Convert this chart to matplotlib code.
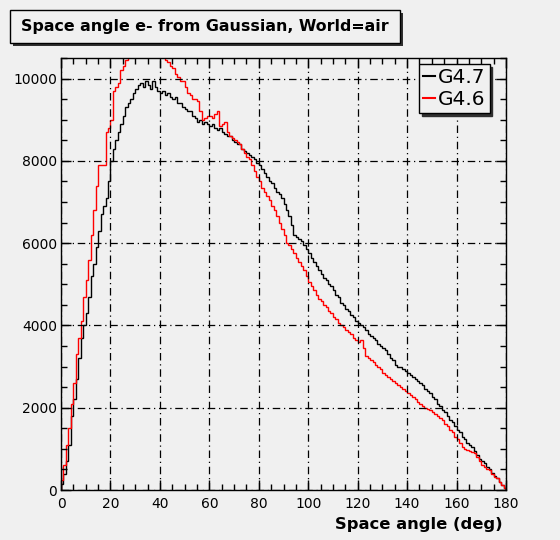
import numpy as np
import matplotlib
matplotlib.use("Agg")
import matplotlib.pyplot as plt
from matplotlib.patches import Rectangle
from matplotlib.ticker import MultipleLocator

plt.rcParams['font.family'] = ['DejaVu Sans']

# ---- data (1-degree bins, 0..180 deg) ----
bin_edges_deg = list(range(0, 181))

g47 = [150, 400, 700, 1100, 1800, 2200, 2700, 3200, 3700, 4000,
       4300, 4700, 5200, 5500, 5900, 6300, 6700, 6900, 7100, 7500,
       8000, 8300, 8500, 8700, 8900, 9100, 9300, 9400, 9500, 9650,
       9750, 9850, 9900, 9800, 9950, 9850, 9750, 9950, 9800, 9700,
       9650, 9700, 9600, 9650, 9550, 9500, 9550, 9400, 9400, 9300,
       9250, 9200, 9200, 9100, 9050, 8950, 9000, 8900, 8950, 8900,
       8850, 8900, 8800, 8750, 8800, 8700, 8650, 8600, 8600, 8500,
       8450, 8400, 8400, 8300, 8250, 8200, 8150, 8100, 8050, 7950,
       7900, 7800, 7700, 7600, 7500, 7450, 7350, 7250, 7200, 7100,
       6950, 6800, 6650, 6450, 6200, 6150, 6100, 6050, 5950, 5850,
       5750, 5650, 5550, 5450, 5350, 5250, 5150, 5100, 5000, 4950,
       4850, 4750, 4700, 4550, 4500, 4400, 4350, 4250, 4200, 4100,
       4050, 4000, 3950, 3900, 3800, 3750, 3700, 3650, 3550, 3500,
       3450, 3400, 3300, 3200, 3150, 3050, 3000, 2980, 2950, 2900,
       2850, 2800, 2750, 2700, 2650, 2600, 2550, 2450, 2400, 2350,
       2250, 2200, 2100, 2050, 1950, 1900, 1800, 1700, 1650, 1550,
       1450, 1400, 1300, 1250, 1150, 1100, 1050, 950, 850, 750,
       700, 650, 550, 500, 420, 350, 280, 200, 120, 50]

g46 = [250, 600, 1100, 1500, 2100, 2600, 3300, 3700, 4100, 4700,
       5100, 5600, 6200, 6800, 7400, 7900, 7900, 7900, 8700, 8800,
       9000, 9700, 9800, 9900, 10200, 10300, 10450, 10700, 10900, 11100,
       11300, 11400, 11500, 11500, 11500, 11400, 11300, 11200, 11000, 10900,
       10700, 10600, 10450, 10400, 10300, 10250, 10100, 10050, 9950, 9950,
       9800, 9650, 9600, 9500, 9500, 9450, 9200, 9000, 9050, 9100,
       9080, 9050, 9150, 9200, 8850, 8900, 8950, 8700, 8600, 8550,
       8500, 8450, 8420, 8300, 8200, 8100, 8050, 7900, 7750, 7600,
       7500, 7350, 7250, 7150, 7050, 6900, 6800, 6650, 6500, 6350,
       6200, 6000, 5950, 5850, 5750, 5650, 5550, 5450, 5350, 5200,
       5050, 4950, 4850, 4750, 4650, 4600, 4500, 4450, 4350, 4300,
       4200, 4150, 4050, 4000, 3950, 3900, 3850, 3800, 3700, 3650,
       3600, 3650, 3450, 3250, 3200, 3150, 3100, 3050, 3000, 2950,
       2850, 2800, 2750, 2700, 2650, 2600, 2550, 2500, 2450, 2400,
       2350, 2300, 2250, 2200, 2150, 2100, 2050, 2000, 1980, 1950,
       1900, 1850, 1800, 1750, 1700, 1600, 1550, 1450, 1400, 1300,
       1250, 1150, 1050, 1000, 980, 950, 920, 890, 800, 700,
       600, 550, 500, 480, 400, 320, 280, 200, 120, 40]

series_labels = ["G4.7", "G4.6"]
title_text = "Space angle e- from Gaussian, World=air"
xlabel_text = "Space angle (deg)"
xticks = [0, 20, 40, 60, 80, 100, 120, 140, 160, 180]
yticks = [0, 2000, 4000, 6000, 8000, 10000]

BG = '#f0f0f0'
W, H = 560, 540
fig = plt.figure(figsize=(W / 100, H / 100), dpi=100, facecolor=BG)

def fx(px):
    return px / W

def fy(py):
    return 1 - py / H

ax = fig.add_axes([fx(61), fy(490), fx(506) - fx(61), fy(58) - fy(490)])
ax.set_facecolor(BG)

l1 = ax.stairs(g47, bin_edges_deg, color='black', lw=1.0, baseline=0)
l2 = ax.stairs(g46, bin_edges_deg, color='red', lw=1.0, baseline=0)

ax.set_xlim(0, 180)
ax.set_ylim(0, 10500)
ax.set_xticks(xticks)
ax.set_yticks(yticks)
ax.xaxis.set_minor_locator(MultipleLocator(5))
ax.yaxis.set_minor_locator(MultipleLocator(500))
ax.tick_params(which='both', direction='in', top=True, right=True,
               labelsize=10, color='black', labelcolor='black')
ax.tick_params(which='major', length=7, width=1)
ax.tick_params(which='minor', length=4, width=1)
ax.tick_params(axis='y', pad=3)
ax.tick_params(axis='x', pad=5)
ax.grid(True, which='major', color='black', lw=0.9, linestyle=(0, (6, 3, 1, 3)))
for s in ax.spines.values():
    s.set_color('black')
    s.set_linewidth(1.0)

# x label (right aligned near axis end)
fig.text(fx(503), fy(524), xlabel_text, ha='right', va='center',
         fontsize=11.8, fontweight='bold')

# title box with shadow
tx0, ty0, tx1, ty1 = 10, 10, 400, 43
fig.patches.append(Rectangle((fx(tx0 + 3), fy(ty1 + 3)), fx(tx1 - tx0), fy(ty0) - fy(ty1),
                             transform=fig.transFigure, facecolor='#303030', edgecolor='none', zorder=1))
fig.patches.append(Rectangle((fx(tx0), fy(ty1)), fx(tx1 - tx0), fy(ty0) - fy(ty1),
                             transform=fig.transFigure, facecolor=BG, edgecolor='black', lw=1.0, zorder=2))
fig.text(fx((tx0 + tx1) / 2), fy((ty0 + ty1) / 2), title_text, ha='center', va='center',
         fontsize=11.4, fontweight='bold', zorder=3)

# legend
leg = ax.legend([l1, l2], series_labels, loc='upper left',
                bbox_to_anchor=(fx(419), fy(64)), bbox_transform=fig.transFigure,
                fontsize=14.5, frameon=True, fancybox=False, framealpha=1,
                facecolor=BG, edgecolor='black',
                shadow={'color': '#303030', 'alpha': 1},
                handlelength=0.6, handletextpad=0.15, borderpad=0.2,
                labelspacing=0.15, borderaxespad=0)
leg.get_frame().set_linewidth(1.0)
for h in leg.get_lines():
    h.set_linewidth(1.5)

fig.savefig('out.png', dpi=100, facecolor=BG)
